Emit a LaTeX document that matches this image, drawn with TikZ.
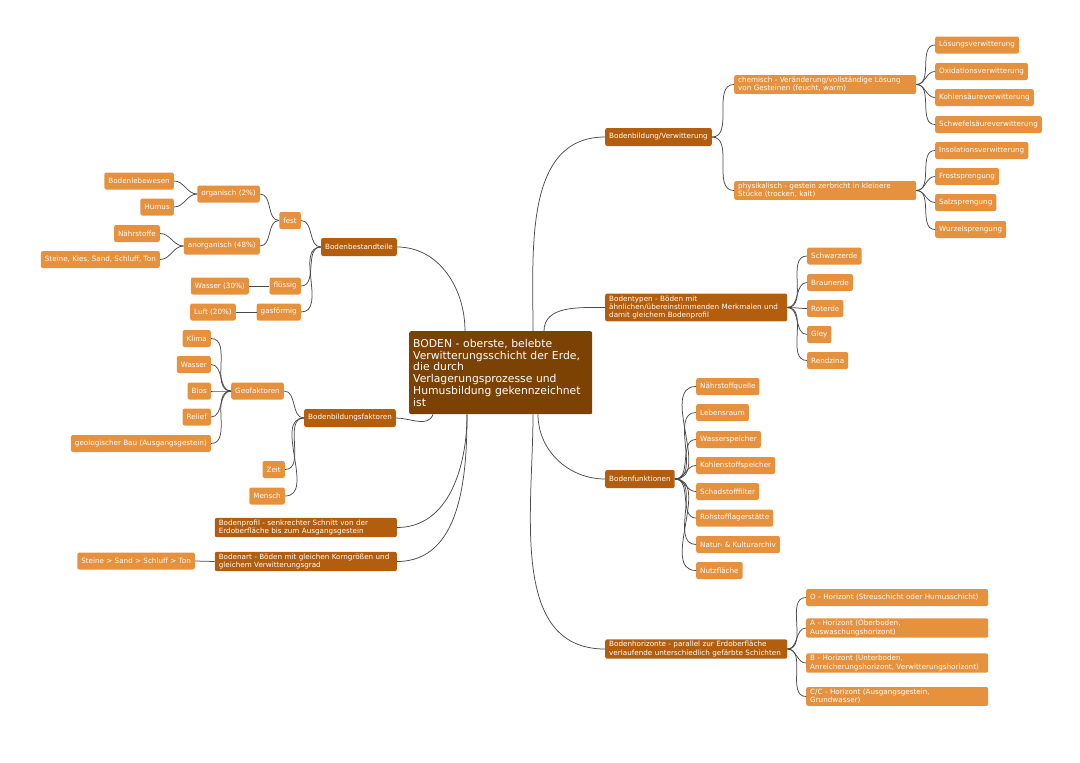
\documentclass[tikz,border=0pt]{standalone}
\usepackage{fontspec}
\setmainfont{DejaVu Sans}
\usetikzlibrary{positioning}
\definecolor{bodenDark}{HTML}{7B4203}
\definecolor{bodenMid}{HTML}{B35E0E}
\definecolor{bodenLight}{HTML}{E6913D}
\definecolor{linkGray}{HTML}{4A4A4A}
\tikzset{
  boxRoot/.style={rectangle, rounded corners=2pt, fill=bodenDark, text=white,
                  align=left, font=\fontsize{10.8}{11.8}\selectfont, inner xsep=4pt,
                  text width=175pt, minimum height=83pt},
  boxMain/.style={rectangle, rounded corners=2pt, fill=bodenMid, text=white,
                  align=left, font=\fontsize{7.2}{8.4}\selectfont, inner xsep=4pt,
                  inner ysep=2pt, minimum height=18pt},
  boxLeaf/.style={rectangle, rounded corners=2pt, fill=bodenLight, text=white,
                  align=left, font=\fontsize{7.2}{8.4}\selectfont, inner xsep=4pt,
                  inner ysep=2pt, minimum height=17pt},
  boxWide/.style={text width=174pt},
  linkC/.style={draw=linkGray, line width=0.75pt},
}
\begin{document}
\begin{tikzpicture}[x=1pt, y=-1pt]
  \useasboundingbox (0,0) rectangle (1080,763);
  % Mitte
  \node[boxRoot, anchor=north west] (boden) at (409,331)
    {BODEN - oberste, belebte\\Verwitterungsschicht der Erde,\\die durch\\Verlagerungsprozesse und\\Humusbildung gekennzeichnet\\ist};

  % rechts: Bodenbildung/Verwitterung
  \node[boxMain, anchor=west] (bildung) at (605,137) {Bodenbildung/Verwitterung};
  \node[boxLeaf, boxWide, anchor=west] (chem) at (734,84.5)
    {chemisch - Veränderung/vollständige Lösung\\von Gesteinen (feucht, warm)};
  \node[boxLeaf, boxWide, anchor=west] (phys) at (734,190.5)
    {physikalisch - gestein zerbricht in kleinere\\Stücke (trocken, kalt)};
  \node[boxLeaf, anchor=west] (loes) at (935,45) {Lösungsverwitterung};
  \node[boxLeaf, anchor=west] (oxi) at (935,71.5) {Oxidationsverwitterung};
  \node[boxLeaf, anchor=west] (kohl) at (935,97.5) {Kohlensäureverwitterung};
  \node[boxLeaf, anchor=west] (schwef) at (935,124.5) {Schwefelsäureverwitterung};
  \node[boxLeaf, anchor=west] (inso) at (935,150.5) {Insolationsverwitterung};
  \node[boxLeaf, anchor=west] (frost) at (935,176.5) {Frostsprengung};
  \node[boxLeaf, anchor=west] (salz) at (935,202.5) {Salzsprengung};
  \node[boxLeaf, anchor=west] (wurzel) at (935,229.5) {Wurzelsprengung};

  % rechts: Bodentypen
  \node[boxMain, boxWide, anchor=west] (typen) at (605,307.5)
    {Bodentypen - Böden mit\\ähnlichen/übereinstimmenden Merkmalen und\\damit gleichem Bodenprofil};
  \node[boxLeaf, anchor=west] (schwarz) at (807,256) {Schwarzerde};
  \node[boxLeaf, anchor=west] (braun) at (807,282.5) {Braunerde};
  \node[boxLeaf, anchor=west] (rot) at (807,308.5) {Roterde};
  \node[boxLeaf, anchor=west] (gley) at (807,334.5) {Gley};
  \node[boxLeaf, anchor=west] (rendz) at (807,360.5) {Rendzina};

  % rechts: Bodenfunktionen
  \node[boxMain, anchor=west] (funk) at (605,479) {Bodenfunktionen};
  \node[boxLeaf, anchor=west] (naehrq) at (696,386.5) {Nährstoffquelle};
  \node[boxLeaf, anchor=west] (leben) at (696,412.5) {Lebensraum};
  \node[boxLeaf, anchor=west] (wassersp) at (696,439.5) {Wasserspeicher};
  \node[boxLeaf, anchor=west] (kohlensp) at (696,465.5) {Kohlenstoffspeicher};
  \node[boxLeaf, anchor=west] (schadst) at (696,491.5) {Schadstofffilter};
  \node[boxLeaf, anchor=west] (rohst) at (696,518) {Rohstofflagerstätte};
  \node[boxLeaf, anchor=west] (archiv) at (696,544.5) {Natur- \& Kulturarchiv};
  \node[boxLeaf, anchor=west] (nutz) at (696,570.5) {Nutzfläche};

  % rechts: Bodenhorizonte
  \node[boxMain, boxWide, anchor=west] (horiz) at (605,649)
    {Bodenhorizonte - parallel zur Erdoberfläche\\verlaufende unterschiedlich gefärbte Schichten};
  \node[boxLeaf, boxWide, anchor=west] (horO) at (806,597.5) {O - Horizont (Streuschicht oder Humusschicht)};
  \node[boxLeaf, boxWide, anchor=west] (horA) at (806,628) {A - Horizont (Oberboden,\\Auswaschungshorizont)};
  \node[boxLeaf, boxWide, anchor=west] (horB) at (806,663) {B - Horizont (Unterboden,\\Anreicherungshorizont, Verwitterungshorizont)};
  \node[boxLeaf, boxWide, anchor=west] (horC) at (806,696.5) {C/C - Horizont (Ausgangsgestein,\\Grundwasser)};

  % links: Bodenbestandteile
  \node[boxMain, anchor=east] (bestand) at (397,247) {Bodenbestandteile};
  \node[boxLeaf, anchor=east] (fest) at (301,220.5) {fest};
  \node[boxLeaf, anchor=east] (org) at (260,194) {organisch (2\%)};
  \node[boxLeaf, anchor=east] (anorg) at (260,246) {anorganisch (48\%)};
  \node[boxLeaf, anchor=east] (lebew) at (174,181) {Bodenlebewesen};
  \node[boxLeaf, anchor=east] (humus) at (174,207) {Humus};
  \node[boxLeaf, anchor=east] (naehr) at (160,233.5) {Nährstoffe};
  \node[boxLeaf, anchor=east] (kies) at (160,259.5) {Steine, Kies, Sand, Schluff, Ton};
  \node[boxLeaf, anchor=east] (fluessig) at (301,286) {flüssig};
  \node[boxLeaf, anchor=east] (wasserA) at (249,286) {Wasser (30\%)};
  \node[boxLeaf, anchor=east] (gas) at (301,312) {gasförmig};
  \node[boxLeaf, anchor=east] (luft) at (236,312) {Luft (20\%)};

  % links: Bodenbildungsfaktoren
  \node[boxMain, anchor=east] (faktoren) at (396,418) {Bodenbildungsfaktoren};
  \node[boxLeaf, anchor=east] (geo) at (284,391) {Geofaktoren};
  \node[boxLeaf, anchor=east] (klima) at (211,338.5) {Klima};
  \node[boxLeaf, anchor=east] (wasserB) at (211,364.5) {Wasser};
  \node[boxLeaf, anchor=east] (bios) at (211,391) {Bios};
  \node[boxLeaf, anchor=east] (relief) at (211,417) {Relief};
  \node[boxLeaf, anchor=east] (geol) at (211,443.5) {geologischer Bau (Ausgangsgestein)};
  \node[boxLeaf, anchor=east] (zeit) at (285,469.5) {Zeit};
  \node[boxLeaf, anchor=east] (mensch) at (285,496) {Mensch};

  % links: Bodenprofil, Bodenart
  \node[boxMain, boxWide, anchor=east] (profil) at (397,527.5)
    {Bodenprofil - senkrechter Schnitt von der\\Erdoberfläche bis zum Ausgangsgestein};
  \node[boxMain, boxWide, anchor=east] (art) at (397,561.5)
    {Bodenart - Böden mit gleichen Korngrößen und\\gleichem Verwitterungsgrad};
  \node[boxLeaf, anchor=east] (korn) at (195,561) {Steine > Sand > Schluff > Ton};

  % Verbindungen zur Mitte
  \draw[linkC] (bestand.east) to[out=0, in=90] ([xshift=56pt]boden.north west);
  \draw[linkC] (bildung.west) to[out=180, in=90] ([xshift=124pt]boden.north west);
  \draw[linkC] (typen.west) to[out=180, in=90] ([xshift=135pt]boden.north west);
  \draw[linkC] (faktoren.east) to[out=0, in=-110] ([xshift=24pt]boden.south west);
  \draw[linkC] (profil.east) to[out=0, in=-90] ([xshift=58pt]boden.south west);
  \draw[linkC] (art.east) to[out=0, in=-90] ([xshift=58pt]boden.south west);
  \draw[linkC] (funk.west) to[out=180, in=-90] ([xshift=129pt]boden.south west);
  \draw[linkC] (horiz.west) to[out=180, in=-90] ([xshift=124pt]boden.south west);

  % rechte Zweige
  \foreach \c in {chem, phys}
    \draw[linkC] (bildung.east) to[out=0, in=180] (\c.west);
  \foreach \c in {loes, oxi, kohl, schwef}
    \draw[linkC] (chem.east) to[out=0, in=180] (\c.west);
  \foreach \c in {inso, frost, salz, wurzel}
    \draw[linkC] (phys.east) to[out=0, in=180] (\c.west);
  \foreach \c in {schwarz, braun, rot, gley, rendz}
    \draw[linkC] (typen.east) to[out=0, in=180] (\c.west);
  \foreach \c in {naehrq, leben, wassersp, kohlensp, schadst, rohst, archiv, nutz}
    \draw[linkC] (funk.east) to[out=0, in=180] (\c.west);
  \foreach \c in {horO, horA, horB, horC}
    \draw[linkC] (horiz.east) to[out=0, in=180] (\c.west);

  % linke Zweige
  \foreach \c in {fest, fluessig, gas}
    \draw[linkC] (bestand.west) to[out=180, in=0] (\c.east);
  \foreach \c in {org, anorg}
    \draw[linkC] (fest.west) to[out=180, in=0] (\c.east);
  \foreach \c in {lebew, humus}
    \draw[linkC] (org.west) to[out=180, in=0] (\c.east);
  \foreach \c in {naehr, kies}
    \draw[linkC] (anorg.west) to[out=180, in=0] (\c.east);
  \draw[linkC] (fluessig.west) -- (wasserA.east);
  \draw[linkC] (gas.west) -- (luft.east);
  \foreach \c in {geo, zeit, mensch}
    \draw[linkC] (faktoren.west) to[out=180, in=0] (\c.east);
  \foreach \c in {klima, wasserB, bios, relief, geol}
    \draw[linkC] (geo.west) to[out=180, in=0] (\c.east);
  \draw[linkC] (art.west) -- (korn.east);
\end{tikzpicture}
\end{document}
